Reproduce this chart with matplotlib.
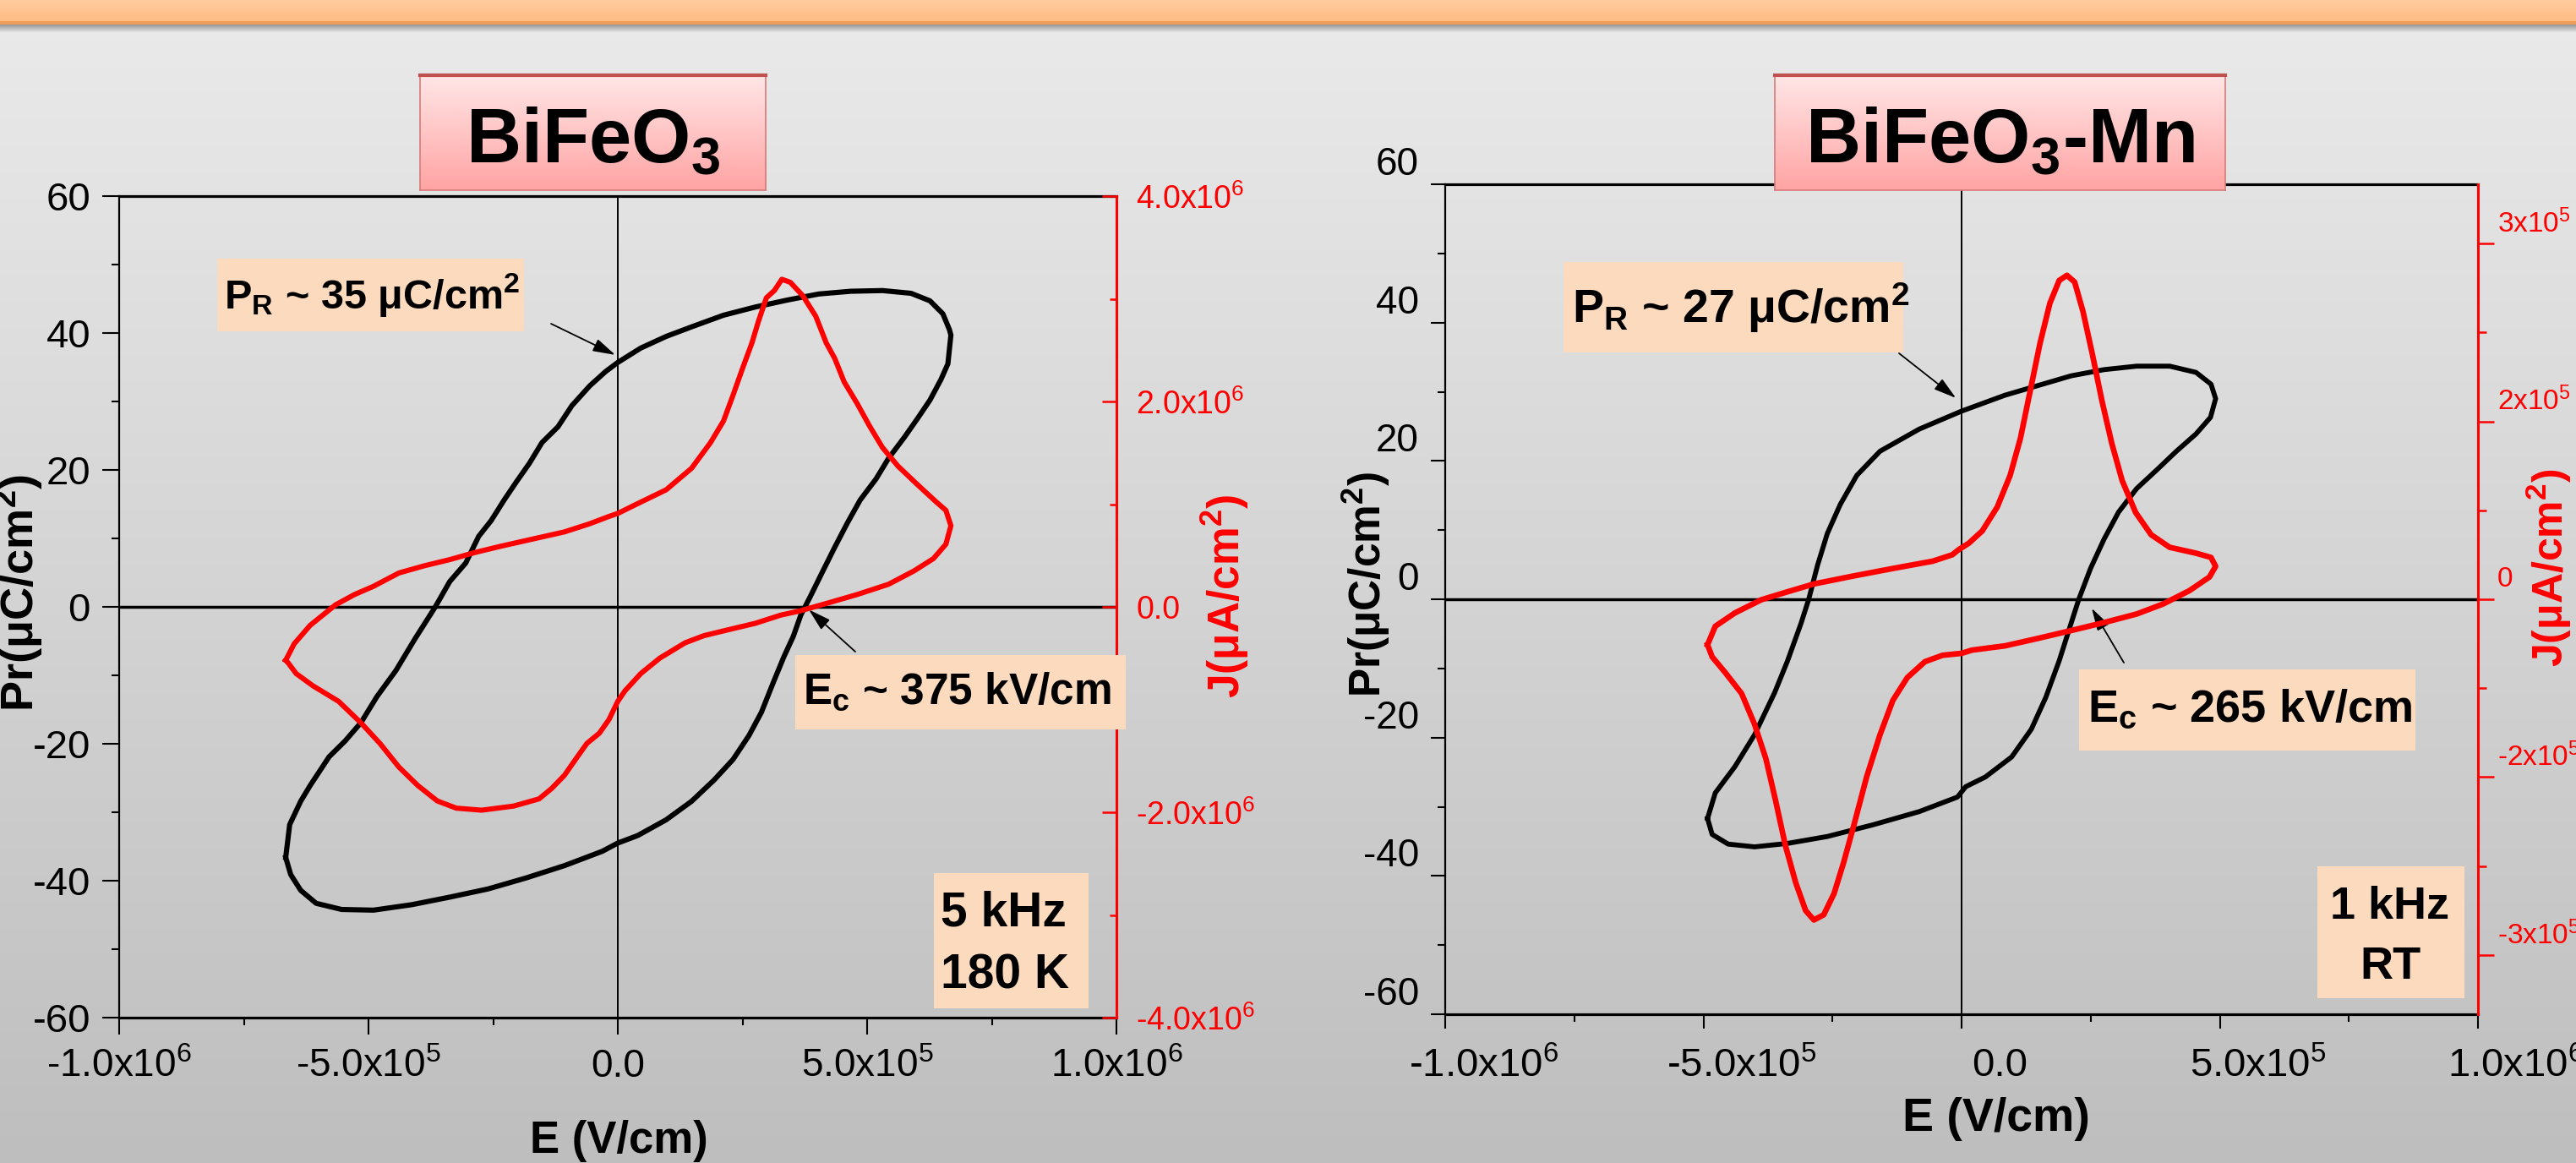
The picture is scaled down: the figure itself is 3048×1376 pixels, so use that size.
import numpy as np
import matplotlib
matplotlib.use("Agg")
import matplotlib.pyplot as plt
import matplotlib.transforms as mtrans
from matplotlib.patches import Rectangle
from matplotlib.ticker import FixedLocator, FixedFormatter
from matplotlib.colors import LinearSegmentedColormap

plt.rcParams['font.family'] = ['Liberation Sans', 'DejaVu Sans']
plt.rcParams['mathtext.default'] = 'regular'

W, H = 3048, 1376
DPI = 100

# ---------------- data ----------------
# left panel: BiFeO3, 5 kHz, 180 K   (E in kV/cm)
e_bfo_p = [-666, -658, -636, -617, -579, -547, -515, -483, -445, -407, -366, -337, -305,
           -279, -254, -228, -203, -177, -152, -120, -92, -56, -24, 0, 46, 97, 148, 212,
           276, 339, 403, 467, 531, 588, 626, 652, 665, 668,
           662, 648, 626, 601, 575, 543, 518, 486, 460, 435, 409, 386, 367, 352, 333,
           311, 288, 263, 231, 193, 148, 97, 40, 0, -31, -107, -184, -260, -337, -413,
           -490, -554, -605, -636, -656, -666]
p_bfo = [-36.6, -31.8, -28.4, -26.1, -21.9, -19.6, -16.9, -13.1, -9.3, -4.7, 0.0, 3.7, 6.4,
         10.3, 12.6, 15.6, 18.3, 21.0, 24.0, 26.3, 29.4, 32.3, 34.4, 35.7, 37.8, 39.5, 40.9,
         42.6, 43.8, 44.8, 45.7, 46.1, 46.2, 45.8, 44.7, 42.8, 40.5, 39.7,
         35.5, 33.2, 30.2, 27.5, 24.8, 21.7, 18.7, 15.6, 12.2, 8.7, 4.9, 1.5, -1.2, -4.3,
         -7.3, -11.2, -15.4, -18.8, -22.3, -25.3, -28.4, -31.1, -33.4, -34.5, -35.7, -37.8,
         -39.6, -41.2, -42.4, -43.5, -44.3, -44.2, -43.3, -41.4, -39.1, -36.6]
e_bfo_j = [-666, -649, -617, -566, -528, -490, -439, -388, -337, -286, -235, -171, -107,
           -56, -18, 0, 46, 97, 148, 186, 212, 231, 250, 269, 282, 298, 314, 329, 346, 371,
           397, 418, 435, 454, 480, 505, 531, 562, 601, 639, 658, 668, 658, 633, 594, 543,
           480, 416, 365, 327, 276, 224, 173, 135, 84, 46, 14, 0, -18, -37, -62, -84, -107,
           -133, -158, -209, -273, -324, -362, -401, -439, -477, -515, -560, -611, -645,
           -662, -666]
j_bfo = [-0.52, -0.36, -0.18, 0.02, 0.12, 0.20, 0.33, 0.40, 0.46, 0.53, 0.59, 0.66, 0.73,
         0.81, 0.88, 0.91, 1.02, 1.14, 1.35, 1.60, 1.81, 2.06, 2.32, 2.57, 2.78, 3.01, 3.08,
         3.19, 3.16, 3.03, 2.83, 2.57, 2.42, 2.19, 1.98, 1.76, 1.55, 1.37, 1.19, 1.02, 0.94,
         0.79, 0.61, 0.47, 0.35, 0.22, 0.12, 0.03, -0.04, -0.08, -0.16, -0.22, -0.28, -0.35,
         -0.50, -0.65, -0.82, -0.92, -1.10, -1.23, -1.33, -1.48, -1.64, -1.77, -1.87, -1.94,
         -1.98, -1.96, -1.89, -1.74, -1.56, -1.33, -1.13, -0.92, -0.77, -0.65, -0.54, -0.52]  # x10^6

# right panel: BiFeO3-Mn, 1 kHz, RT
e_mn_p = [-492, -477, -439, -401, -362, -337, -311, -296, -279, -260, -235, -203, -158, -82,
          0, 84, 148, 212, 276, 339, 403, 454, 483, 492, 482, 454, 416, 378, 339, 304, 276,
          250, 227, 212, 189, 163, 135, 97, 46, 8, -8, -82, -171, -260, -337, -401, -452,
          -483, -492]
p_mn = [-31.7, -28.0, -24.2, -19.6, -13.5, -8.9, -3.5, 0.0, 4.9, 9.5, 13.7, 17.9, 21.4, 24.6,
        27.2, 29.5, 30.9, 32.3, 33.2, 33.7, 33.7, 32.8, 31.1, 29.0, 26.3, 23.9, 21.4, 18.7,
        16.0, 12.6, 8.7, 4.5, 0.0, -3.5, -8.9, -14.2, -18.8, -22.8, -25.7, -27.1, -28.6,
        -30.7, -32.6, -34.3, -35.3, -35.8, -35.4, -34.0, -31.7]
e_mn_j = [-492, -477, -439, -388, -337, -286, -209, -133, -56, -18, -5, 14, 40, 69, 94, 114,
          133, 152, 171, 189, 204, 219, 235, 253, 272, 291, 311, 337, 367, 403, 454, 483, 492,
          480, 441, 390, 339, 276, 212, 148, 84, 20, 0, -37, -71, -105, -133, -158, -184,
          -207, -228, -247, -267, -286, -302, -321, -341, -360, -379, -401, -426, -458, -483,
          -492]
j_mn = [-0.256, -0.152, -0.077, -0.003, 0.042, 0.086, 0.131, 0.173, 0.214, 0.250, 0.280,
        0.315, 0.384, 0.518, 0.696, 0.905, 1.173, 1.440, 1.664, 1.792, 1.821, 1.783, 1.619,
        1.381, 1.113, 0.875, 0.667, 0.488, 0.363, 0.292, 0.259, 0.235, 0.185, 0.125, 0.048,
        -0.027, -0.083, -0.131, -0.176, -0.220, -0.262, -0.286, -0.304, -0.315, -0.351,
        -0.440, -0.568, -0.762, -1.000, -1.253, -1.476, -1.655, -1.774, -1.803, -1.750,
        -1.595, -1.387, -1.134, -0.896, -0.702, -0.530, -0.411, -0.324, -0.256]  # x10^5

e_ticks = [-1e6, -5e5, 0, 5e5, 1e6]
e_minor = [-7.5e5, -2.5e5, 2.5e5, 7.5e5]
e_labels = ['-1.0x10$^{6}$', '-5.0x10$^{5}$', '0.0', '5.0x10$^{5}$', '1.0x10$^{6}$']
p_ticks = [-60, -40, -20, 0, 20, 40, 60]
p_minor = [-50, -30, -10, 10, 30, 50]
p_labels = ['-60', '-40', '-20', '0', '20', '40', '60']
j_bfo_ticks = [-4e6, -2e6, 0, 2e6, 4e6]
j_bfo_minor = [-3e6, -1e6, 1e6, 3e6]
j_bfo_labels = ['-4.0x10$^{6}$', '-2.0x10$^{6}$', '0.0', '2.0x10$^{6}$', '4.0x10$^{6}$']
j_mn_ticks = [-2e5, -1e5, 0, 1e5, 2e5]
j_mn_minor = [-1.5e5, -0.5e5, 0.5e5, 1.5e5]
j_mn_labels = ['-3x10$^{5}$', '-2x10$^{5}$', '0', '2x10$^{5}$', '3x10$^{5}$']

fig = plt.figure(figsize=(W / DPI, H / DPI), dpi=DPI)


def rect(x0, y0, x1, y1):
    return [x0 / W, 1 - y1 / H, (x1 - x0) / W, (y1 - y0) / H]


def pt(px):
    return px * 72 / DPI


# background: orange banner + grey gradient
img = np.zeros((H, 1, 3))
for i in range(H):
    if i < 25:
        t = i / 25
        img[i, 0] = (1.0, 0.80 - 0.06 * t, 0.62 - 0.10 * t)
    elif i < 29:
        img[i, 0] = (0.95, 0.62, 0.36)
    elif i < 38:
        g = 0.60 + 0.31 * (i - 29) / 9
        img[i, 0] = (g, g, g)
    else:
        g = 0.915 - 0.17 * (i - 38) / (H - 38)
        img[i, 0] = (g, g, g)
bg = fig.add_axes([0, 0, 1, 1], zorder=-10)
bg.imshow(img, aspect='auto', extent=[0, 1, 0, 1], interpolation='bilinear')
bg.set_axis_off()


def shift(labels, dx, dy):
    off = mtrans.ScaledTranslation(dx / DPI, dy / DPI, fig.dpi_scale_trans)
    for lab in labels:
        lab.set_transform(lab.get_transform() + off)


def panel(box, e_p, p, e_j, j, jlim, jt, jm, jl, c):
    ax = fig.add_axes(rect(*box))
    ax.patch.set_alpha(0)
    ax.axhline(0, color='k', lw=2.5, zorder=1)
    ax.axvline(0, color='k', lw=1.4, zorder=1)
    ax.plot(np.array(e_p) * 1e3, p, color='k', lw=c['lw'], zorder=2,
            solid_joinstyle='round')
    ax.set_xlim(-1e6, 1e6)
    ax.set_ylim(-60, 60)
    ax.xaxis.set_major_locator(FixedLocator(e_ticks))
    ax.xaxis.set_major_formatter(FixedFormatter(e_labels))
    ax.xaxis.set_minor_locator(FixedLocator(e_minor))
    ax.yaxis.set_major_locator(FixedLocator(p_ticks))
    ax.yaxis.set_major_formatter(FixedFormatter(p_labels))
    ax.yaxis.set_minor_locator(FixedLocator(p_minor))
    ax.tick_params(which='both', direction='out', width=1.5, color='k')
    ax.tick_params(which='major', length=pt(c['tick']))
    ax.tick_params(which='minor', length=pt(9))
    ax.tick_params(axis='x', labelsize=c['xsize'], pad=pt(c['xpad']))
    ax.tick_params(axis='y', labelsize=c['ysize'], pad=pt(14))
    ax.spines['top'].set_linewidth(2.3)
    ax.spines['bottom'].set_linewidth(2.3)
    ax.spines['left'].set_linewidth(1.6)
    ax.spines['right'].set_visible(False)

    ax2 = ax.twinx()
    ax2.plot(np.array(e_j) * 1e3, np.array(j) * c['jscale'], color='#ff0000',
             lw=c['jlw'], zorder=2, solid_joinstyle='round')
    ax2.set_ylim(-jlim, jlim)
    ax2.yaxis.set_major_locator(FixedLocator(jt))
    ax2.yaxis.set_major_formatter(FixedFormatter(jl))
    ax2.yaxis.set_minor_locator(FixedLocator(jm))
    ax2.tick_params(axis='y', which='both', direction=c['jdir'], colors='#ff0000',
                    width=1.8, labelsize=c['jsize'], pad=pt(c['jpad']))
    ax2.tick_params(axis='y', which='major', length=pt(c['jtick']))
    ax2.tick_params(axis='y', which='minor', length=pt(c['jtick'] / 2))
    for s in ['left', 'top', 'bottom']:
        ax2.spines[s].set_visible(False)
    ax2.spines['right'].set_color('#ff0000')
    ax2.spines['right'].set_linewidth(2.2)
    return ax, ax2


def to_axes(ax, x, y):
    # figure pixel (from top-left) to axes fraction
    bb = ax.get_position()
    return ((x / W - bb.x0) / bb.width, ((1 - y / H) - bb.y0) / bb.height)


def note(x0, y0, x1, y1):
    fig.add_artist(Rectangle((x0 / W, 1 - y1 / H), (x1 - x0) / W, (y1 - y0) / H,
                             transform=fig.transFigure, facecolor='#fcdabd',
                             edgecolor='none', zorder=2))


def txt(x, y, s, size, **kw):
    fig.text(x / W, 1 - y / H, s, fontsize=size, fontweight='bold', va='baseline',
             zorder=4, **kw)


arrow = dict(arrowstyle='-|>,head_length=0.45,head_width=0.13', color='k', lw=1.3,
             mutation_scale=36, shrinkA=0, shrinkB=0)

# ---------------- left panel ----------------
axL, axL2 = panel((141, 232, 1321, 1204), e_bfo_p, p_bfo, e_bfo_j, j_bfo, 4e6,
                  j_bfo_ticks, j_bfo_minor, j_bfo_labels,
                  dict(lw=4.4, jlw=4.4, tick=20, xsize=33, ysize=34, xpad=16,
                       jscale=1e6, jdir='in', jtick=17, jsize=27, jpad=23))
axL.annotate('', xy=(-5e3, 36.8), xytext=to_axes(axL, 652, 383),
             textcoords='axes fraction', arrowprops=arrow)
axL.annotate('', xy=(3.83e5, -0.4), xytext=to_axes(axL, 1012, 771),
             textcoords='axes fraction', arrowprops=arrow)

# ---------------- right panel ----------------
axR, axR2 = panel((1710, 218, 2932, 1200), e_mn_p, p_mn, e_mn_j, j_mn, 2.333e5,
                  j_mn_ticks, j_mn_minor, j_mn_labels,
                  dict(lw=4.2, jlw=4.8, tick=17, xsize=34, ysize=33, xpad=22,
                       jscale=1e5, jdir='out', jtick=19, jsize=24, jpad=4))
axR.annotate('', xy=(-1.1e4, 29.1), xytext=to_axes(axR, 2247, 418),
             textcoords='axes fraction', arrowprops=arrow)
axR.annotate('', xy=(2.52e5, -1.3), xytext=to_axes(axR, 2513, 784),
             textcoords='axes fraction', arrowprops=arrow)
shift(axR.get_xticklabels(), 45, 0)
shift(axR.get_yticklabels(), 0, 28)
shift(axR2.get_yticklabels(), 0, 27)

# axis titles
txt(732, 1364, 'E (V/cm)', 38, ha='center')
txt(2362, 1338, 'E (V/cm)', 40, ha='center')
txt(40, 702, 'Pr(μC/cm$^{2}$)', 39, ha='center', rotation=90, rotation_mode='anchor')
txt(1634, 692, 'Pr(μC/cm$^{2}$)', 37, ha='center', rotation=90, rotation_mode='anchor')
txt(1467, 705, 'J(μA/cm$^{2}$)', 37, ha='center', rotation=90, rotation_mode='anchor',
    color='#ff0000')
txt(3033, 672, 'J(μA/cm$^{2}$)', 36, ha='center', rotation=90, rotation_mode='anchor',
    color='#ff0000')

# annotation boxes
note(257, 306, 620, 392)
txt(265, 365, 'P$_{R}$ ~ 35 μC/cm$^{2}$', 35)
note(941, 775, 1332, 863)
txt(950, 833, 'E$_{c}$ ~ 375 kV/cm', 37)
note(1105, 1033, 1288, 1193)
txt(1113, 1095, '5 kHz', 41)
txt(1113, 1169, '180 K', 41)

note(1850, 310, 2252, 417)
txt(1860, 382, 'P$_{R}$ ~ 27 μC/cm$^{2}$', 40)
note(2460, 792, 2858, 888)
txt(2470, 854, 'E$_{c}$ ~ 265 kV/cm', 39)
note(2742, 1025, 2916, 1181)
txt(2828, 1087, '1 kHz', 39, ha='center')
txt(2828, 1158, 'RT', 39, ha='center')

# sample title boxes
pink = LinearSegmentedColormap.from_list('pink', ['#ffe6e6', '#ffa4a4'])
for (x0, x1), name in [((497, 906), 'BiFeO$_{3}$'), ((2100, 2633), 'BiFeO$_{3}$-Mn')]:
    tb = fig.add_axes(rect(x0, 89, x1, 225), zorder=5)
    tb.imshow(np.linspace(0, 1, 64)[:, None], aspect='auto', cmap=pink,
              extent=[0, 1, 0, 1])
    tb.set_xticks([])
    tb.set_yticks([])
    for s in tb.spines.values():
        s.set_color('#d77a7a')
        s.set_linewidth(1.2)
    tb.spines['top'].set_color('#c0504d')
    tb.spines['top'].set_linewidth(3)
    fig.text((x0 + x1) / 2 / W, 1 - 192 / H, name, fontsize=65, fontweight='bold',
             ha='center', va='baseline', zorder=6)

fig.savefig('out.png', dpi=DPI)
